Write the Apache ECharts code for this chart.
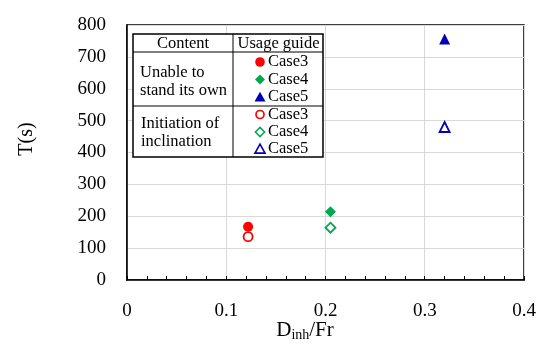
<!DOCTYPE html>
<html><head><meta charset="utf-8">
<script src="https://cdn.jsdelivr.net/npm/echarts@6/dist/echarts.min.js"></script>
<style>html,body{margin:0;padding:0;background:#fff}#c{width:550px;height:346px}</style>
</head><body><div id="c"></div>
<script>
var xTicks = [0, 0.1, 0.2, 0.3, 0.4];
var yTicks = [0, 100, 200, 300, 400, 500, 600, 700, 800];
var unableCase3 = [[0.122, 167]];
var unableCase4 = [[0.205, 214]];
var unableCase5 = [[0.320, 756]];
var initCase3 = [[0.122, 136]];
var initCase4 = [[0.205, 164]];
var initCase5 = [[0.320, 480]];
var colRed = '#ff0000', colGreen = '#00a84f', colBlue = '#0000b4';
var FF = '"Liberation Serif", "DejaVu Serif", serif';

var chart = echarts.init(document.getElementById('c'));
function filled(data, sym, size, col) {
  return {type:'scatter', data:data, symbol:sym, symbolSize:size,
    itemStyle:{color:col, opacity:1}, z:5};
}
function open(data, sym, size, col) {
  return {type:'scatter', data:data, symbol:sym, symbolSize:size,
    itemStyle:{color:'#fff', borderColor:col, borderWidth:1.8, opacity:1}, z:5};
}
var L = 133, R = 323, T = 34, B = 157, CX = 233, H1 = 52, H2 = 106;
var mx = 260, tx = 268;
var rows = [62, 79.5, 97, 114.5, 132, 149];
var LF = '16.5px ' + FF;
function diamond(cx, cy, r){return [[cx,cy-r],[cx+r,cy],[cx,cy+r],[cx-r,cy]];}
function tri(cx, cy, r){return [[cx,cy-r],[cx+r*1.05,cy+r*0.85],[cx-r*1.05,cy+r*0.85]];}
var g = [
  {type:'rect', shape:{x:L,y:T,width:R-L,height:B-T}, style:{fill:'#fff', stroke:'#000', lineWidth:1.5}, z:10},
  {type:'line', shape:{x1:CX,y1:T,x2:CX,y2:B}, style:{stroke:'#000', lineWidth:1}, z:11},
  {type:'line', shape:{x1:L,y1:H1,x2:R,y2:H1}, style:{stroke:'#000', lineWidth:1}, z:11},
  {type:'line', shape:{x1:L,y1:H2,x2:R,y2:H2}, style:{stroke:'#000', lineWidth:1}, z:11},
  {type:'text', x:(L+CX)/2, y:(T+H1)/2+0.5, style:{text:'Content', font:LF, fill:'#000', align:'center', verticalAlign:'middle'}, z:12},
  {type:'text', x:(CX+R)/2+0.5, y:(T+H1)/2+0.5, style:{text:'Usage guide', font:LF, fill:'#000', align:'center', verticalAlign:'middle'}, z:12},
  {type:'text', x:140, y:72.5, style:{text:'Unable to', font:LF, fill:'#000', verticalAlign:'middle'}, z:12},
  {type:'text', x:140, y:90.5, style:{text:'stand its own', font:LF, fill:'#000', verticalAlign:'middle'}, z:12},
  {type:'text', x:141, y:124, style:{text:'Initiation of', font:LF, fill:'#000', verticalAlign:'middle'}, z:12},
  {type:'text', x:141, y:141.5, style:{text:'inclination', font:LF, fill:'#000', verticalAlign:'middle'}, z:12},
  {type:'circle', shape:{cx:mx, cy:rows[0], r:4.8}, style:{fill:colRed}, z:12},
  {type:'polygon', shape:{points:diamond(mx, rows[1], 5)}, style:{fill:colGreen}, z:12},
  {type:'polygon', shape:{points:tri(mx, rows[2], 5.2)}, style:{fill:colBlue}, z:12},
  {type:'circle', shape:{cx:mx, cy:rows[3], r:4}, style:{fill:'#fff', stroke:colRed, lineWidth:1.7}, z:12},
  {type:'polygon', shape:{points:diamond(mx, rows[4], 4.6)}, style:{fill:'#fff', stroke:colGreen, lineWidth:1.5}, z:12},
  {type:'polygon', shape:{points:tri(mx, rows[5], 4.8)}, style:{fill:'#fff', stroke:colBlue, lineWidth:1.6}, z:12}
];
['Case3','Case4','Case5','Case3','Case4','Case5'].forEach(function(t,i){
  g.push({type:'text', x:tx, y:rows[i], style:{text:t, font:LF, fill:'#000', verticalAlign:'middle'}, z:12});
});
g.push({type:'text', x:27, y:139, rotation:Math.PI/2, style:{text:'T(s)', font:'20px '+FF, fill:'#000', align:'center', verticalAlign:'middle'}, z:12});
g.push({type:'text', x:305, y:330, style:{
  text:'{a|D}{b|inh}{a|/Fr}', align:'center', verticalAlign:'middle',
  rich:{a:{fontSize:21, fontFamily:FF, fill:'#000'}, b:{fontSize:14, fontFamily:FF, fill:'#000', padding:[10,0,0,0]}}}, z:12});

chart.setOption({
  animation:false,
  backgroundColor:'#fff',
  grid:{left:127, right:26, top:25, bottom:66, show:true, borderColor:'#000', borderWidth:1.5, backgroundColor:'transparent'},
  xAxis:{type:'value', min:xTicks[0], max:xTicks[xTicks.length-1], interval:0.1,
    axisLine:{show:true, onZero:false, lineStyle:{color:'#000', width:1.5}},
    axisTick:{show:true, inside:true, length:4, lineStyle:{color:'#000'}},
    minorTick:{show:true, splitNumber:5, length:4, lineStyle:{color:'#000'}},
    splitLine:{show:true, lineStyle:{color:'#d9d9d9', width:1}},
    axisLabel:{color:'#000', fontSize:19, fontFamily:FF, margin:22,
      formatter:function(v){return String(Math.round(v*10)/10);}}
  },
  yAxis:{type:'value', min:yTicks[0], max:yTicks[yTicks.length-1], interval:100,
    axisLine:{show:true, onZero:false, lineStyle:{color:'#000', width:1.5}},
    axisTick:{show:false},
    splitLine:{show:true, lineStyle:{color:'#d9d9d9', width:1}},
    axisLabel:{color:'#000', fontSize:19, fontFamily:FF, margin:21}
  },
  graphic:g,
  series:[
    filled(unableCase3,'circle',10,colRed),
    filled(unableCase4,'diamond',11,colGreen),
    filled(unableCase5,'triangle',11,colBlue),
    open(initCase3,'circle',9,colRed),
    open(initCase4,'diamond',10,colGreen),
    open(initCase5,'triangle',10,colBlue)
  ]
});
</script></body></html>
